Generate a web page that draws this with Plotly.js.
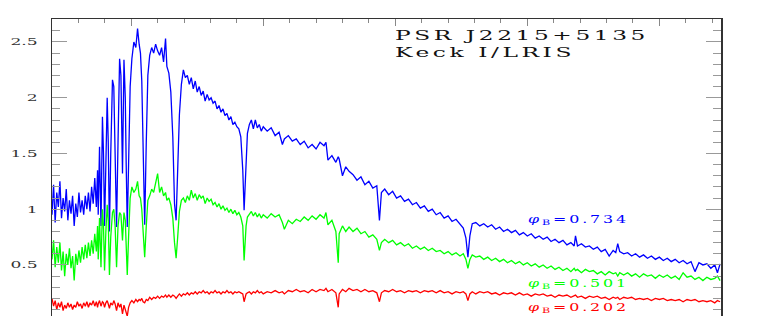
<!DOCTYPE html>
<html>
<head>
<meta charset="utf-8">
<script src="https://cdn.plot.ly/plotly-3.0.1.min.js"></script>
<style>
  html, body { margin: 0; padding: 0; background: #fff; }
  #grafico { width: 763px; height: 316px; }
  .annotation-text { letter-spacing: 2px; }
</style>
</head>
<body>
<div id="grafico"></div>
<script>
// Comprimento de onda [Angstrom] (eixo x comum aos tres espectros)
const comprimentoOnda = [
    3400, 3412, 3424, 3436, 3448, 3460, 3472, 3484, 3496, 3508,
    3520, 3532, 3544, 3556, 3568, 3580, 3592, 3604, 3616, 3628,
    3640, 3652, 3664, 3676, 3688, 3700, 3712, 3724, 3736, 3745,
    3750, 3760, 3771, 3782, 3790, 3798, 3808, 3818, 3826, 3835,
    3845, 3858, 3868, 3878, 3889, 3900, 3912, 3922, 3934, 3945,
    3955, 3962, 3970, 3980, 3992,
    4005, 4020, 4035, 4048, 4060, 4070, 4080, 4090, 4102, 4114,
    4126, 4140, 4155, 4170, 4185, 4200, 4215, 4230, 4245, 4260,
    4270, 4285, 4300, 4315, 4328, 4340, 4352, 4365, 4380, 4395,
    4410, 4425, 4440, 4455, 4470, 4485, 4500, 4515, 4530, 4545,
    4560, 4575, 4590, 4605, 4620, 4635, 4650, 4665, 4680, 4695,
    4710, 4725, 4740, 4755, 4770, 4785, 4800, 4815, 4830, 4845,
    4855, 4862, 4870, 4880, 4895, 4910, 4925, 4940, 4955, 4970,
    4985, 5000,
    5030, 5060, 5090, 5120, 5145, 5160, 5190, 5220, 5250, 5280,
    5310, 5340, 5370, 5400, 5430, 5460, 5475, 5490, 5520, 5550,
    5568, 5575, 5600, 5625, 5650, 5680, 5710, 5740, 5770, 5800,
    5830, 5860, 5880, 5895, 5920, 5950, 5980, 6010, 6040, 6070,
    6100, 6130, 6160, 6190, 6220, 6250, 6280, 6310, 6340, 6370,
    6400, 6430, 6460, 6490, 6515, 6535, 6550, 6565, 6583, 6610,
    6640, 6670, 6700, 6730, 6760, 6790, 6820, 6850, 6880, 6910,
    6940, 6970, 7000, 7030, 7060, 7090, 7120, 7150, 7180, 7210,
    7240, 7270, 7300, 7330, 7355, 7365, 7380, 7410, 7440, 7470,
    7500, 7530, 7560, 7590, 7620, 7650, 7670, 7685, 7700, 7730,
    7760, 7790, 7820, 7850, 7880, 7910, 7940, 7970, 8000, 8030,
    8060, 8090, 8120, 8150, 8180, 8210, 8240, 8270, 8300, 8330,
    8360, 8390, 8420, 8440, 8460
];

// Fluxo normalizado, fase 0.734 (azul)
const fluxoFase0734 = [
    0.95, 1.22, 0.88, 1.15, 1.02, 1.25, 0.92, 1.10, 0.98, 1.18,
    0.90, 1.08, 0.96, 1.12, 0.85, 1.05, 0.93, 1.15, 0.97, 1.08,
    0.95, 1.12, 1.00, 1.15, 0.98, 1.20, 1.05, 1.28, 1.02, 1.35,
    0.95, 1.56, 0.85, 1.83, 1.50, 0.85, 1.40, 2.00, 1.60, 0.80,
    1.50, 2.16, 2.10, 1.60, 0.84, 1.60, 2.35, 2.20, 1.32, 2.34,
    2.00, 1.40, 0.84, 1.40, 2.10,
    2.35, 2.50, 2.45, 2.62, 2.48, 2.40, 2.15, 1.60, 0.86, 1.60,
    2.20, 2.38, 2.45, 2.40, 2.48, 2.42, 2.38, 2.45, 2.32, 2.53,
    2.28, 2.22, 2.05, 1.65, 1.05, 0.90, 1.30, 1.85, 2.12, 2.25,
    2.18, 2.20, 2.12, 2.18, 2.08, 2.15, 2.05, 2.10, 2.02, 2.06,
    1.97, 2.03, 1.98, 2.00, 1.95, 1.97, 1.90, 1.93, 1.87, 1.90,
    1.84, 1.86, 1.80, 1.83, 1.76, 1.78, 1.74, 1.72, 1.65, 1.35,
    0.99, 1.15, 1.45, 1.68, 1.76, 1.80, 1.72, 1.80, 1.73, 1.76,
    1.70, 1.74,
    1.70, 1.73, 1.66, 1.69, 1.58, 1.63, 1.66, 1.61, 1.63, 1.58,
    1.61, 1.55, 1.58, 1.54, 1.60, 1.57, 1.60, 1.44, 1.48, 1.42,
    1.47, 1.45, 1.30, 1.38, 1.34, 1.31, 1.26, 1.29, 1.22, 1.25,
    1.19, 1.21, 0.90, 1.15, 1.18, 1.13, 1.16, 1.10, 1.12, 1.07,
    1.09, 1.04, 1.06, 1.01, 1.03, 0.98, 1.00, 0.95, 0.97, 0.92,
    0.94, 0.89, 0.91, 0.86, 0.83, 0.74, 0.57, 0.76, 0.87, 0.88,
    0.85, 0.87, 0.84, 0.86, 0.82, 0.84, 0.80, 0.82, 0.79, 0.81,
    0.77, 0.79, 0.76, 0.78, 0.74, 0.76, 0.73, 0.75, 0.71, 0.73,
    0.70, 0.72, 0.68, 0.70, 0.67, 0.76, 0.67, 0.69, 0.66, 0.67,
    0.64, 0.66, 0.62, 0.64, 0.58, 0.63, 0.61, 0.69, 0.62, 0.60,
    0.61, 0.58, 0.60, 0.57, 0.59, 0.56, 0.58, 0.55, 0.57, 0.54,
    0.56, 0.53, 0.55, 0.52, 0.54, 0.51, 0.53, 0.44, 0.52, 0.50,
    0.51, 0.47, 0.50, 0.43, 0.51
];

// Fluxo normalizado, fase 0.501 (verde)
const fluxoFase0501 = [
    0.55, 0.72, 0.48, 0.66, 0.52, 0.70, 0.45, 0.62, 0.40, 0.60,
    0.50, 0.65, 0.47, 0.58, 0.36, 0.60, 0.50, 0.63, 0.52, 0.66,
    0.55, 0.68, 0.56, 0.70, 0.58, 0.72, 0.60, 0.78, 0.62, 0.85,
    0.55, 0.92, 0.48, 1.00, 0.85, 0.45, 0.80, 1.04, 0.90, 0.41,
    0.75, 0.97, 1.00, 0.85, 0.48, 0.85, 0.97, 0.95, 0.72, 0.97,
    0.90, 0.65, 0.41, 0.75, 1.10,
    1.20, 1.15, 1.18, 1.25, 1.12, 1.10, 1.00, 0.80, 0.57, 0.85,
    1.08, 1.12, 1.18, 1.15, 1.23, 1.32, 1.15, 1.20, 1.12, 1.15,
    1.08, 1.10, 1.04, 0.92, 0.70, 0.56, 0.75, 0.98, 1.08, 1.10,
    1.06, 1.12, 1.08, 1.17, 1.10, 1.14, 1.08, 1.13, 1.10, 1.12,
    1.05, 1.10, 1.07, 1.09, 1.04, 1.06, 1.02, 1.05, 1.00, 1.03,
    0.99, 1.01, 0.97, 1.00, 0.96, 0.99, 0.95, 0.97, 0.93, 0.85,
    0.54, 0.70, 0.85, 0.93, 0.95, 0.98, 0.94, 0.97, 0.93, 0.96,
    0.92, 0.95,
    0.92, 0.96, 0.93, 0.95, 0.88, 0.82, 0.90, 0.87, 0.91, 0.89,
    0.93, 0.90, 0.94, 0.91, 0.95, 0.92, 0.97, 0.86, 0.90, 0.80,
    0.52, 0.78, 0.85, 0.80, 0.84, 0.80, 0.83, 0.78, 0.80, 0.75,
    0.77, 0.73, 0.63, 0.70, 0.73, 0.70, 0.72, 0.68, 0.70, 0.67,
    0.69, 0.65, 0.67, 0.64, 0.66, 0.63, 0.65, 0.62, 0.63, 0.60,
    0.62, 0.59, 0.61, 0.58, 0.60, 0.55, 0.47, 0.55, 0.59, 0.57,
    0.58, 0.55, 0.57, 0.54, 0.56, 0.53, 0.55, 0.52, 0.54, 0.51,
    0.53, 0.50, 0.52, 0.49, 0.51, 0.48, 0.50, 0.47, 0.49, 0.46,
    0.48, 0.45, 0.47, 0.44, 0.47, 0.45, 0.46, 0.43, 0.46, 0.44,
    0.45, 0.42, 0.44, 0.41, 0.44, 0.42, 0.43, 0.40, 0.43, 0.41,
    0.43, 0.40, 0.42, 0.39, 0.42, 0.40, 0.41, 0.38, 0.41, 0.39,
    0.41, 0.38, 0.40, 0.37, 0.43, 0.39, 0.40, 0.37, 0.39, 0.36,
    0.39, 0.37, 0.38, 0.40, 0.36
];

// Fluxo normalizado, fase 0.202 (vermelho)
const fluxoFase0202 = [
    0.20, 0.13, 0.18, 0.10, 0.16, 0.12, 0.17, 0.09, 0.14, 0.11,
    0.16, 0.12, 0.15, 0.10, 0.14, 0.12, 0.17, 0.13, 0.15, 0.11,
    0.16, 0.13, 0.17, 0.12, 0.16, 0.14, 0.18, 0.13, 0.17, 0.12,
    0.15, 0.18, 0.13, 0.17, 0.16, 0.12, 0.16, 0.18, 0.15, 0.11,
    0.16, 0.14, 0.18, 0.15, 0.09, 0.16, 0.12, 0.15, 0.06, 0.14,
    0.10, 0.07, 0.04, 0.12, 0.16,
    0.18, 0.16, 0.19, 0.17, 0.19, 0.18, 0.20, 0.17, 0.16, 0.19,
    0.18, 0.21, 0.19, 0.21, 0.20, 0.22, 0.20, 0.22, 0.21, 0.23,
    0.21, 0.23, 0.21, 0.23, 0.22, 0.20, 0.22, 0.24, 0.22, 0.24,
    0.23, 0.25, 0.23, 0.25, 0.24, 0.26, 0.24, 0.26, 0.25, 0.27,
    0.25, 0.26, 0.24, 0.26, 0.25, 0.27, 0.25, 0.26, 0.24, 0.26,
    0.25, 0.27, 0.25, 0.26, 0.24, 0.26, 0.25, 0.26, 0.25, 0.24,
    0.17, 0.22, 0.24, 0.25, 0.26, 0.24, 0.26, 0.25, 0.27, 0.25,
    0.26, 0.24,
    0.26, 0.25, 0.27, 0.25, 0.26, 0.24, 0.27, 0.26, 0.28, 0.26,
    0.27, 0.25, 0.28, 0.26, 0.28, 0.27, 0.29, 0.26, 0.28, 0.25,
    0.12, 0.24, 0.28, 0.26, 0.29, 0.27, 0.28, 0.26, 0.28, 0.26,
    0.27, 0.25, 0.17, 0.25, 0.27, 0.26, 0.28, 0.26, 0.27, 0.25,
    0.27, 0.26, 0.27, 0.25, 0.27, 0.26, 0.27, 0.25, 0.27, 0.25,
    0.26, 0.24, 0.26, 0.25, 0.26, 0.24, 0.18, 0.24, 0.26, 0.24,
    0.26, 0.25, 0.26, 0.24, 0.25, 0.23, 0.25, 0.24, 0.25, 0.23,
    0.25, 0.23, 0.24, 0.22, 0.24, 0.23, 0.24, 0.22, 0.23, 0.21,
    0.23, 0.22, 0.23, 0.21, 0.22, 0.23, 0.21, 0.22, 0.20, 0.22,
    0.21, 0.22, 0.20, 0.21, 0.19, 0.21, 0.20, 0.21, 0.19, 0.21,
    0.20, 0.21, 0.19, 0.20, 0.19, 0.20, 0.18, 0.20, 0.19, 0.20,
    0.18, 0.19, 0.18, 0.19, 0.17, 0.19, 0.18, 0.19, 0.17, 0.18,
    0.17, 0.18, 0.16, 0.18, 0.17
];

// Rotulos das fases e posicao (em coordenadas de dados)
const rotulosFase = ['0.734', '0.501', '0.202'];
const coresFase = ['#0000ff', '#00ff00', '#ff0000'];
const rotuloX = [6992, 6992, 6992];
const rotuloY = [0.905, 0.33, 0.11];

const fonteSerif = 'DejaVu Serif, Liberation Serif, serif';

const traces = [fluxoFase0734, fluxoFase0501, fluxoFase0202].map(function(fluxo, k) {
    return {
        x: comprimentoOnda,
        y: fluxo,
        type: 'scatter',
        mode: 'lines',
        line: { color: coresFase[k], width: 1.3 },
        hoverinfo: 'skip',
        showlegend: false
    };
});

const anotacoes = [
    {
        x: 5985, y: 2.555, xref: 'x', yref: 'y',
        text: 'PSR J2215+5135',
        showarrow: false, xanchor: 'left', yanchor: 'middle', align: 'left',
        font: { family: fonteSerif, size: 13, color: '#111' }
    },
    {
        x: 5985, y: 2.41, xref: 'x', yref: 'y',
        text: 'Keck I/LRIS',
        showarrow: false, xanchor: 'left', yanchor: 'middle', align: 'left',
        font: { family: fonteSerif, size: 13, color: '#111' }
    }
];

rotulosFase.forEach(function(r, k) {
    anotacoes.push({
        x: rotuloX[k], y: rotuloY[k], xref: 'x', yref: 'y',
        text: '<i>φ</i><sub>B</sub>=' + r,
        showarrow: false, xanchor: 'left', yanchor: 'middle', align: 'left',
        font: { family: fonteSerif, size: 11, color: coresFase[k] }
    });
});

// Largura (px) dos textos no original, que usa uma fonte larga
const larguraAnotacao = [254, 180, 101, 101, 101];
const esticaTick = 1.8;

const layout = {
    width: 763,
    height: 316,
    margin: { l: 52, r: 42, t: 19, b: 0 },
    paper_bgcolor: '#fff',
    plot_bgcolor: '#fff',
    showlegend: false,
    xaxis: {
        range: [3400, 8467],
        side: 'top',
        showgrid: false,
        zeroline: false,
        showline: true,
        linecolor: '#333',
        linewidth: 1.5,
        ticks: 'inside',
        tick0: 0,
        dtick: 1000,
        ticklen: 7,
        tickcolor: '#888',
        showticklabels: false,
        minor: { dtick: 200, tick0: 0, ticks: 'inside', ticklen: 4, tickcolor: '#888' }
    },
    yaxis: {
        range: [0.042, 2.706],
        showgrid: false,
        zeroline: false,
        showline: true,
        mirror: 'ticks',
        linecolor: '#333',
        linewidth: 1.5,
        ticks: 'inside',
        tick0: 0,
        dtick: 0.5,
        ticklen: 15,
        tickcolor: '#999',
        ticklabelstandoff: 11,
        automargin: false,
        tickfont: { family: fonteSerif, size: 9.5, color: '#333' },
        minor: { dtick: 0.1, tick0: 0, ticks: 'inside', ticklen: 8, tickcolor: '#999' }
    },
    annotations: anotacoes
};

Plotly.newPlot('grafico', traces, layout, { staticPlot: true, displayModeBar: false }).then(function(gd) {
    // Alarga os textos na horizontal, como no grafico original
    gd.querySelectorAll('.ytick text').forEach(function(t) {
        const w = t.getComputedTextLength();
        t.setAttribute('lengthAdjust', 'spacingAndGlyphs');
        t.setAttribute('textLength', (w * esticaTick).toFixed(1));
    });
    gd.querySelectorAll('.annotation-text').forEach(function(t, k) {
        t.setAttribute('lengthAdjust', 'spacingAndGlyphs');
        t.setAttribute('textLength', larguraAnotacao[k]);
    });
});
</script>
</body>
</html>
